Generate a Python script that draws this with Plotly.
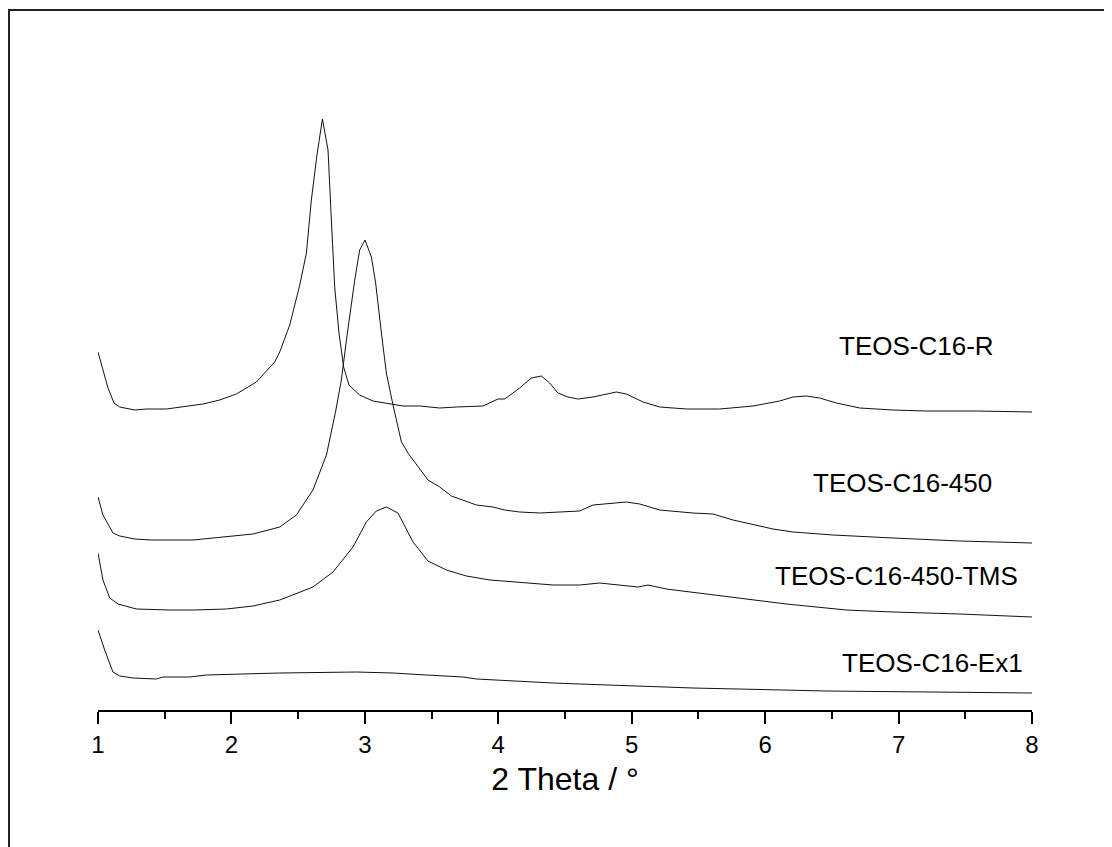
import plotly.graph_objects as go

# ---- data (2 Theta in degrees, intensity in arbitrary stacked units) ----
x_R = [1.00, 1.075, 1.12, 1.163, 1.275, 1.363, 1.513, 1.612, 1.787, 1.912, 2.037, 2.187, 2.324, 2.362,
       2.437, 2.512, 2.562, 2.599, 2.641, 2.682, 2.724, 2.749, 2.774, 2.806, 2.841, 2.881, 2.961, 3.061,
       3.199, 3.286, 3.411, 3.561, 3.686, 3.885, 3.998, 4.048, 4.160, 4.248, 4.323, 4.385, 4.447, 4.522,
       4.597, 4.710, 4.885, 4.960, 5.085, 5.210, 5.410, 5.560, 5.659, 5.909, 6.109, 6.209, 6.309, 6.409,
       6.534, 6.709, 6.958, 7.208, 7.583, 8.00]
y_R = [358, 322, 307, 303, 300, 301, 301, 303, 306, 310, 316, 328, 348, 358,
       385, 425, 457, 510, 555, 591, 560, 490, 423, 377, 343, 325, 315, 309,
       306, 304, 304, 302, 303, 304, 311, 311, 322, 332, 334, 327, 317, 313,
       311, 313, 318, 316, 308, 303, 301, 301, 301, 304, 309, 313, 314, 312,
       307, 302, 300, 299, 299, 298]

x_450 = [1.00, 1.037, 1.112, 1.163, 1.275, 1.400, 1.712, 1.962, 2.162, 2.362, 2.487, 2.611, 2.712,
         2.78, 2.824, 2.862, 2.924, 2.961, 3.001, 3.049, 3.081, 3.124, 3.161, 3.211, 3.274, 3.323,
         3.473, 3.561, 3.649, 3.836, 3.960, 4.048, 4.160, 4.310, 4.485, 4.610, 4.710, 4.960, 5.060,
         5.210, 5.459, 5.609, 5.759, 6.059, 6.209, 6.508, 6.958, 7.458, 8.00]
y_450 = [213, 195, 177, 174, 171, 170, 170, 173, 176, 183, 195, 220, 255,
         298, 330, 370, 430, 460, 470, 453, 427, 377, 337, 305, 268, 257,
         230, 223, 214, 205, 203, 200, 198, 197, 198, 199, 205, 208, 206,
         200, 197, 196, 190, 181, 178, 175, 172, 169, 167]

x_TMS = [1.00, 1.037, 1.088, 1.150, 1.288, 1.537, 1.725, 1.962, 2.162, 2.362, 2.611, 2.761, 2.911,
         3.011, 3.086, 3.161, 3.248, 3.361, 3.473, 3.611, 3.761, 3.936, 4.035, 4.211, 4.410, 4.610,
         4.760, 5.047, 5.122, 5.260, 5.510, 5.759, 6.159, 6.609, 6.958, 7.458, 8.00]
y_TMS = [157, 130, 112, 106, 101, 100, 100, 101, 104, 110, 123, 138, 163,
         188, 199, 203, 197, 168, 149, 140, 134, 130, 129, 127, 125, 125,
         127, 123, 125, 121, 117, 113, 106, 100, 98, 96, 93]

x_Ex1 = [1.00, 1.050, 1.112, 1.163, 1.262, 1.438, 1.487, 1.687, 1.812, 2.087, 2.362, 2.937, 3.211,
         3.461, 3.736, 3.836, 4.086, 4.410, 4.610, 5.459, 6.459, 7.458, 8.00]
y_Ex1 = [80, 60, 38, 34, 32, 31, 33, 33, 35, 36, 37, 38, 37,
         35, 33, 31, 29, 27, 26, 22, 19, 18, 17]

labels = ["TEOS-C16-R", "TEOS-C16-450", "TEOS-C16-450-TMS", "TEOS-C16-Ex1"]
label_x = [7.136, 7.033, 6.984, 7.253]
label_y = [364, 227, 134, 47]

x_ticks = [1, 2, 3, 4, 5, 6, 7, 8]

FONT = "Liberation Sans, Arial, sans-serif"

fig = go.Figure()
for xs, ys, name in [(x_R, y_R, labels[0]), (x_450, y_450, labels[1]),
                     (x_TMS, y_TMS, labels[2]), (x_Ex1, y_Ex1, labels[3])]:
    fig.add_trace(go.Scatter(x=xs, y=ys, mode="lines", name=name,
                             line=dict(color="#111111", width=1), showlegend=False))

for t, lx, ly in zip(labels, label_x, label_y):
    fig.add_annotation(x=lx, y=ly, xref="x", yref="y", text=t, showarrow=False,
                       xanchor="center", yanchor="middle",
                       font=dict(family=FONT, size=26, color="black"))

# page body adds an 8px offset; figure sized to fit the window
W, H = 1104, 839
L, R, T, B = 90, 80, 12, 137
pw, ph = W - L - R, H - T - B
fig.add_shape(type="rect", xref="paper", yref="paper",
              x0=(1 - L) / pw, x1=(W + 20 - L) / pw,
              y0=-(H + 20 - (T + ph)) / ph, y1=(T + ph - 2) / ph,
              line=dict(color="#222222", width=2), fillcolor="rgba(0,0,0,0)", layer="above")

fig.update_layout(
    width=W, height=H,
    margin=dict(l=L, r=R, t=T, b=B, pad=0),
    paper_bgcolor="white", plot_bgcolor="white",
    font=dict(family=FONT, color="black"),
    xaxis=dict(range=[1, 8], tickvals=x_ticks, ticktext=[str(v) for v in x_ticks],
               ticks="outside", ticklen=12, tickwidth=1.5, tickcolor="black",
               showline=True, linewidth=1.5, linecolor="black", showgrid=False, zeroline=False,
               minor=dict(dtick=0.5, ticks="outside", ticklen=7, tickwidth=1.5, tickcolor="black",
                          showgrid=False),
               tickfont=dict(family=FONT, size=24, color="black"),
               title=dict(text="2 Theta / °", font=dict(family=FONT, size=32, color="black"),
                          standoff=11)),
    yaxis=dict(range=[0, ph], visible=False, fixedrange=True),
)

fig.write_html("out.html")
